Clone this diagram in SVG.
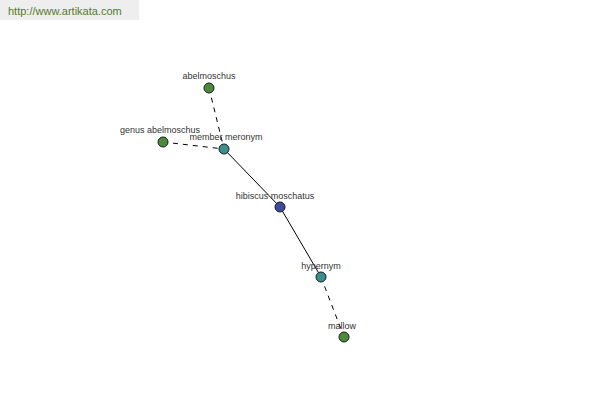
<svg xmlns="http://www.w3.org/2000/svg" width="600" height="400" viewBox="0 0 600 400">
<style>
.lbl{font-family:"Liberation Sans",Arial,sans-serif;font-size:9px;fill:#333;text-anchor:middle}
.n{stroke:#1a1a1a;stroke-width:1}
.g{fill:#4b8b3b}.t{fill:#3a8f8f}.b{fill:#3f4a9a}
.e{stroke:#000;stroke-width:1;fill:none}
.d{stroke-dasharray:5,5}
</style>
<rect x="0" y="0" width="139" height="20" fill="#eeeeee"/>
<text x="8" y="15" font-family="Liberation Sans,Arial,sans-serif" font-size="11" fill="#557a2c">http://www.artikata.com</text>
<g id="connectors">
<line class="e d" x1="209" y1="88" x2="224" y2="149"/>
<line class="e d" x1="163" y1="142" x2="224" y2="149"/>
<line class="e" x1="224" y1="149" x2="280" y2="207"/>
<line class="e" x1="280" y1="207" x2="321" y2="277"/>
<line class="e d" x1="321" y1="277" x2="344" y2="337"/>
</g>
<g id="abelmoschus"><circle class="n g" cx="209" cy="88" r="5"/><text class="lbl" x="209" y="79">abelmoschus</text></g>
<g id="genus-abelmoschus"><circle class="n g" cx="163" cy="142" r="5"/><text class="lbl" x="160" y="133">genus abelmoschus</text></g>
<g id="member-meronym"><circle class="n t" cx="224" cy="149" r="5"/><text class="lbl" x="226" y="140">member meronym</text></g>
<g id="hibiscus-moschatus"><circle class="n b" cx="280" cy="207" r="5"/><text class="lbl" x="275" y="199">hibiscus moschatus</text></g>
<g id="hypernym"><circle class="n t" cx="321" cy="277" r="5"/><text class="lbl" x="321" y="269">hypernym</text></g>
<g id="mallow"><circle class="n g" cx="344" cy="337" r="5"/><text class="lbl" x="342" y="329">mallow</text></g>
</svg>
